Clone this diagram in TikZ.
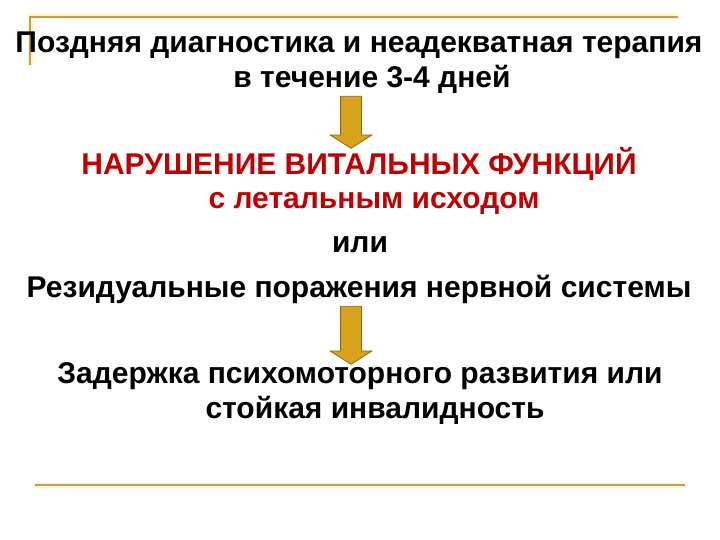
\documentclass[tikz,border=0pt]{standalone}
\usepackage{fontspec}
\setmainfont{Liberation Sans}
\usetikzlibrary{shapes.arrows}

\definecolor{framegold}{HTML}{BFA055}
\definecolor{frameglow}{HTML}{FFF6C8}
\definecolor{arrowgold}{HTML}{D9A21B}
\definecolor{arrowedge}{HTML}{8A6A20}
\definecolor{alarmred}{HTML}{C00000}

\begin{document}
\begin{tikzpicture}[x=1pt,y=-1pt]
  \tikzstyle{every node}=[font=\fontsize{30}{36}\selectfont\bfseries, inner sep=0pt, anchor=base]
  \tikzstyle{frame}=[line width=2.2pt, draw=framegold]
  \tikzstyle{glow}=[line width=5pt, draw=frameglow]
  \tikzstyle{redtext}=[text=alarmred]
  \tikzstyle{downarrow}=[single arrow, rotate=-90, fill=arrowgold, draw=arrowedge,
    line width=0.8pt, inner sep=10pt, single arrow head extend=10.5pt,
    single arrow tip angle=115, anchor=center]

  \useasboundingbox (0,0) rectangle (720,540);

  % frame
  \draw[glow] (30,65) -- (30,17) -- (678,17);
  \draw[frame] (30,65) -- (30,17) -- (678,17);
  \draw[glow] (35,485) -- (685,485);
  \draw[frame] (35,485) -- (685,485);

  \node (late) at (359,53) {Поздняя диагностика и неадекватная терапия};
  \node (days) at (372,88) {в течение 3-4 дней};

  \node[downarrow, minimum height=52pt] (arrow1) at (351,119) {};

  \node[redtext] (vital) at (359,175) {НАРУШЕНИЕ ВИТАЛЬНЫХ ФУНКЦИЙ};
  \node[redtext] (lethal) at (374,208) {с летальным исходом};
  \node (or) at (360,252) {или};
  \node (residual) at (359,297) {Резидуальные поражения нервной системы};

  \node[downarrow, minimum height=58pt] (arrow2) at (351,332) {};

  \node (delay) at (360,383) {Задержка психомоторного развития или};
  \node (disab) at (375,418) {стойкая инвалидность};

\end{tikzpicture}
\end{document}
